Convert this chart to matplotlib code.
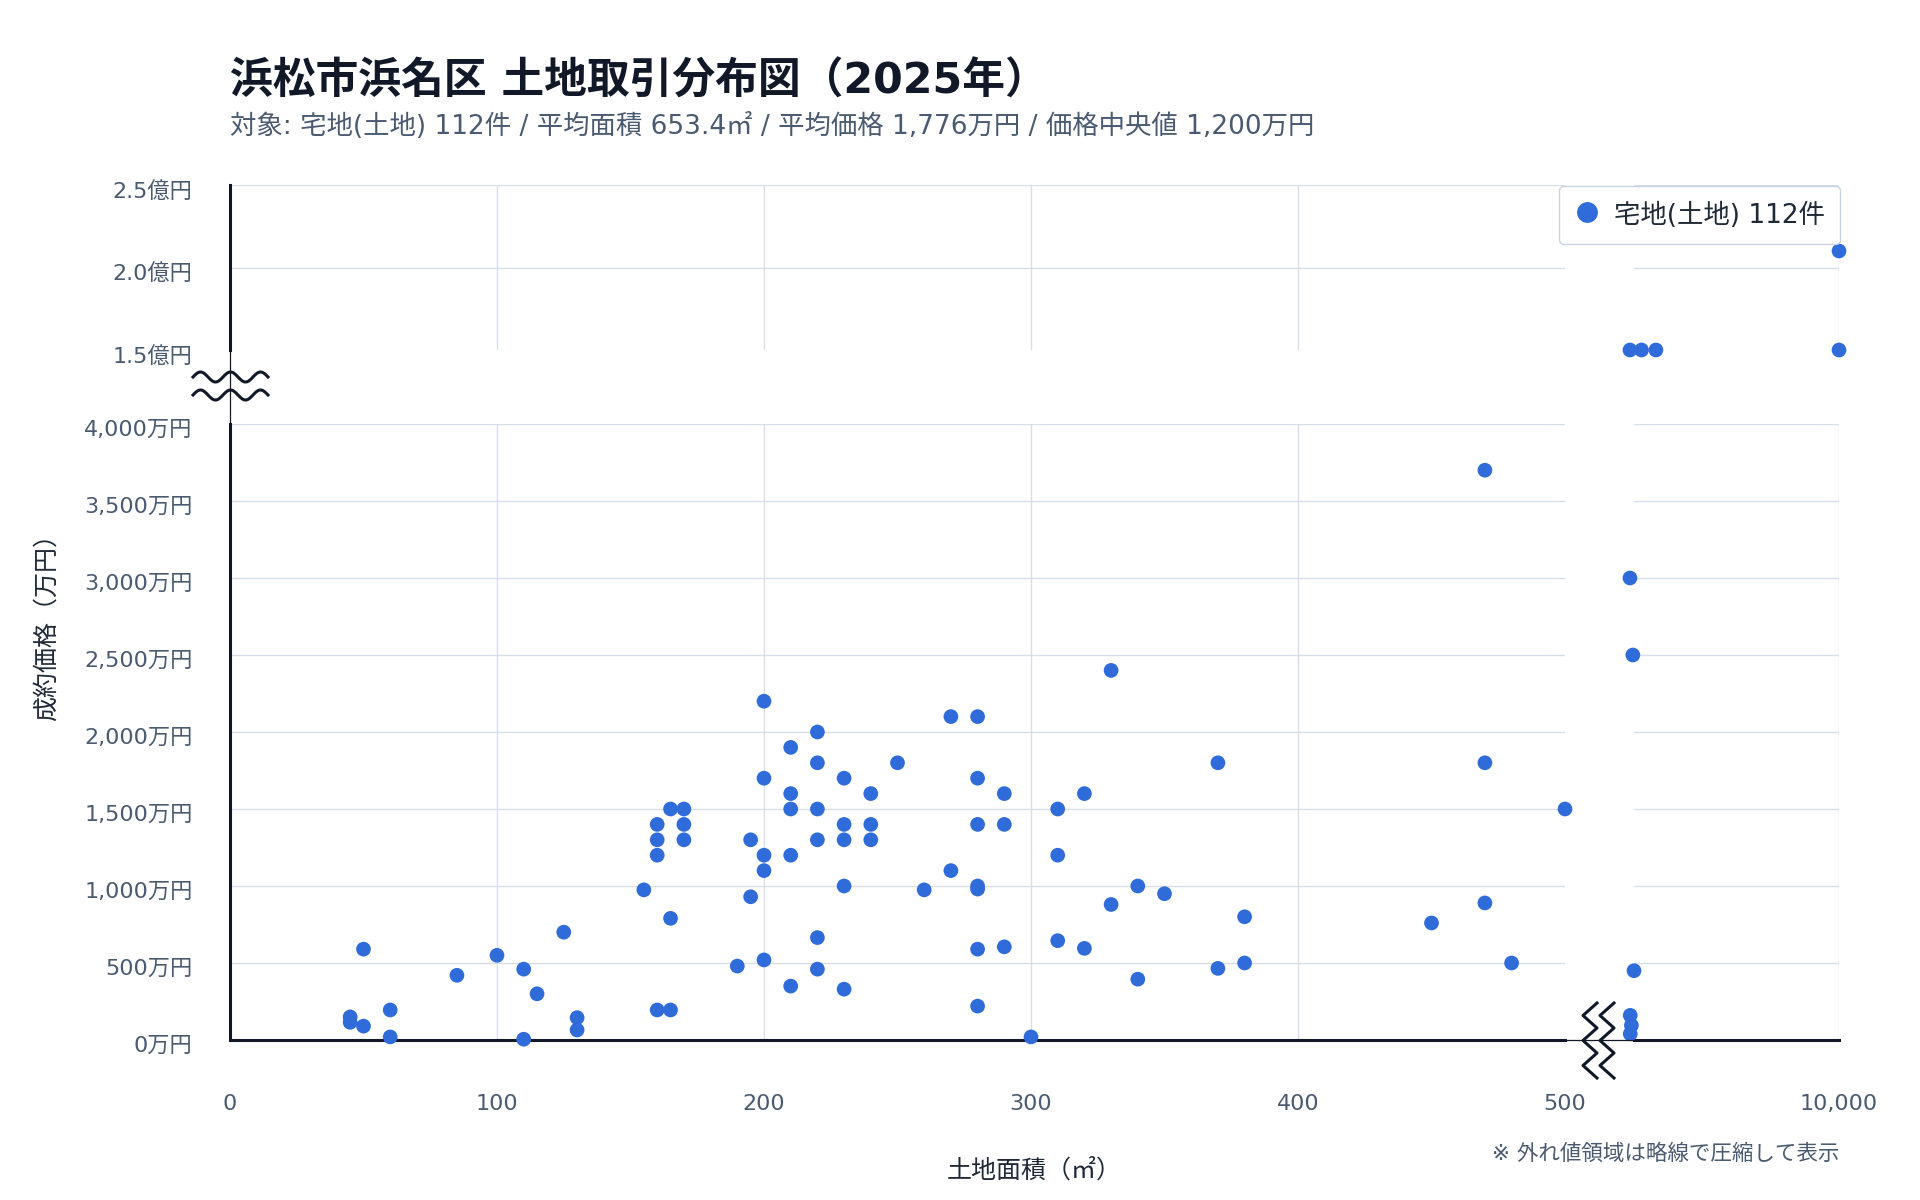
import numpy as np
import matplotlib
matplotlib.use("Agg")
import matplotlib.pyplot as plt
from matplotlib.lines import Line2D
from matplotlib.transforms import ScaledTranslation

plt.rcParams['font.family'] = ['DejaVu Sans', 'Noto Sans CJK JP']

# 土地面積(㎡) / 成約価格(万円) -- 0〜500㎡ の通常領域
area_main = [45, 45, 50, 50, 60, 60, 85, 100, 110, 110, 115, 125, 130, 130,
             155, 160, 160, 160, 160, 165, 165, 165, 170, 170, 170, 190, 195, 195,
             200, 200, 200, 200, 200, 210, 210, 210, 210, 210,
             220, 220, 220, 220, 220, 220, 230, 230, 230, 230, 230,
             240, 240, 240, 250, 260, 270, 270,
             280, 280, 280, 280, 280, 280, 280, 290, 290, 290, 300,
             310, 310, 310, 320, 320, 330, 330, 340, 340, 350, 370, 370, 380, 380,
             450, 470, 470, 470, 480, 500]
price_main = [150, 115, 90, 590, 195, 20, 420, 550, 460, 5, 300, 700, 145, 65,
              975, 1400, 1300, 1200, 195, 1500, 790, 195, 1500, 1400, 1300, 480, 1300, 930,
              2200, 1700, 1200, 1100, 520, 1900, 1600, 1500, 1200, 350,
              2000, 1800, 1500, 1300, 665, 460, 1700, 1400, 1300, 1000, 330,
              1600, 1400, 1300, 1800, 975, 2100, 1100,
              2100, 1700, 1400, 1000, 980, 590, 220, 1600, 1400, 605, 20,
              1500, 1200, 645, 1600, 595, 2400, 880, 1000, 395, 950, 1800, 465, 800, 500,
              760, 3700, 1800, 890, 500, 1500]

# 面積の外れ値 (圧縮表示領域)
area_out = [2750, 2850, 2890, 2760, 2800, 2760]
price_out = [3000, 2500, 450, 160, 95, 40]

# 価格の外れ値 (1.5億円以上)
area_top = [2750, 3150, 3650, 10000, 10000]
price_top = [15000, 15000, 15000, 21000, 15000]

low_yticks = list(range(0, 4001, 500))
top_yticks = [15000, 20000, 25000]
main_xticks = [0, 100, 200, 300, 400, 500]

BLUE = '#2f6bd9'
DARK = '#111827'
GRID = '#d5dee9'
TICK = '#4a5a70'

W, H = 1920, 1200


def box(l, t, r, b):
    return [l / W, 1 - b / H, (r - l) / W, (b - t) / H]


def fx(px):
    return px / W


def fy(py):
    return 1 - py / H


fig = plt.figure(figsize=(19.2, 12), dpi=100)
ax_ll = fig.add_axes(box(230, 424, 1565, 1040))
ax_lr = fig.add_axes(box(1634, 424, 1839, 1040))
ax_ul = fig.add_axes(box(230, 185, 1565, 350))
ax_ur = fig.add_axes(box(1634, 185, 1839, 350))

for ax in (ax_ll, ax_lr, ax_ul, ax_ur):
    for s in ax.spines.values():
        s.set_visible(False)
    ax.set_axisbelow(True)
    ax.grid(True, color=GRID, linewidth=1.0)
    ax.tick_params(length=0, labelsize=16, labelcolor=TICK)
    ax.tick_params(axis='y', pad=27)
    ax.tick_params(axis='x', pad=39)

# 下段左 (メイン)
ax_ll.set_xlim(0, 500)
ax_ll.set_ylim(0, 4000)
ax_ll.set_xticks(main_xticks)
ax_ll.set_xticklabels([f"{v:,}" for v in main_xticks])
ax_ll.set_yticks(low_yticks)
ax_ll.set_yticklabels([f"{v:,}万円" for v in low_yticks])
for t in ax_ll.xaxis.get_major_ticks():
    if t.get_loc() in (0, 500):
        t.gridline.set_visible(False)
ax_ll.spines['left'].set_visible(True)
ax_ll.spines['bottom'].set_visible(True)
ax_ll.spines['left'].set_color(DARK)
ax_ll.spines['bottom'].set_color(DARK)
ax_ll.spines['left'].set_linewidth(2.2)
ax_ll.spines['bottom'].set_linewidth(2.2)
ax_ll.scatter(area_main, price_main, s=112, color=BLUE, edgecolors='none',
              clip_on=False, zorder=3)

# 下段右 (面積外れ値)
ax_lr.set_xlim(2890, 10000)
ax_lr.set_ylim(0, 4000)
ax_lr.set_xticks([10000])
ax_lr.set_xticklabels(['10,000'])
ax_lr.set_yticks(low_yticks)
ax_lr.set_yticklabels([])
ax_lr.spines['bottom'].set_visible(True)
ax_lr.spines['bottom'].set_color(DARK)
ax_lr.spines['bottom'].set_linewidth(2.2)
ax_lr.scatter(area_out, price_out, s=112, color=BLUE, edgecolors='none',
              clip_on=False, zorder=3)

# 上段左 (価格外れ値)
ax_ul.set_xlim(0, 500)
ax_ul.set_ylim(15000, 25000)
ax_ul.set_xticks([100, 200, 300, 400])
ax_ul.set_xticklabels([])
ax_ul.set_yticks(top_yticks)
ax_ul.set_yticklabels([f"{v / 10000:.1f}億円" for v in top_yticks])
ax_ul.yaxis.get_major_ticks()[0].gridline.set_visible(False)
ax_ul.spines['left'].set_visible(True)
ax_ul.spines['left'].set_color(DARK)
ax_ul.spines['left'].set_linewidth(2.2)

# 上段右
ax_ur.set_xlim(2890, 10000)
ax_ur.set_ylim(15000, 25000)
ax_ur.set_xticks([10000])
ax_ur.set_xticklabels([])
ax_ur.set_yticks([20000, 25000])
ax_ur.set_yticklabels([])
ax_ur.scatter(area_top, price_top, s=112, color=BLUE, edgecolors='none',
              clip_on=False, zorder=3)

# y目盛ラベルを少し下へ
shift = ScaledTranslation(0, -4 / 100, fig.dpi_scale_trans)
for ax in (ax_ll, ax_ul):
    for lab in ax.get_yticklabels():
        lab.set_transform(lab.get_transform() + shift)

# 軸の略線部分 (細線 + 波線)
fig.add_artist(Line2D([fx(230), fx(230)], [fy(350), fy(424)], color=DARK, lw=0.9,
                      transform=fig.transFigure))
fig.add_artist(Line2D([fx(1565), fx(1634)], [fy(1040), fy(1040)], color=DARK, lw=0.9,
                      transform=fig.transFigure))
wx = np.linspace(193, 268, 120)
for yc in (377, 395):
    wy = yc - 5 * np.sin(2 * np.pi * (wx - 193) / 30.0)
    fig.add_artist(Line2D(fx(wx), fy(wy), color=DARK, lw=2.2, transform=fig.transFigure))
zy = np.linspace(1003, 1078, 7)
for xc in (1590, 1607):
    zx = xc + 7 * np.array([1, -1, 1, -1, 1, -1, 1])
    fig.add_artist(Line2D(fx(zx), fy(zy), color=DARK, lw=2.2, transform=fig.transFigure))

# 凡例
handle = Line2D([], [], marker='o', linestyle='none', markersize=15,
                markerfacecolor=BLUE, markeredgecolor='none')
leg = fig.legend([handle], ['宅地(土地) 112件'], loc='upper right',
                 bbox_to_anchor=(fx(1840), fy(186)), fontsize=19, frameon=True,
                 fancybox=True, edgecolor='#c8d4e3', framealpha=1,
                 borderpad=0.55, handletextpad=0.55, handlelength=1.0,
                 handleheight=1.25, borderaxespad=0)
for t in leg.get_texts():
    t.set_color('#1f2937')

# タイトル類
fig.text(fx(230), fy(82), '浜松市浜名区 土地取引分布図（2025年）', fontsize=30.8,
         fontweight='bold', color=DARK, ha='left', va='center')
fig.text(fx(230), fy(126),
         '対象: 宅地(土地) 112件 / 平均面積 653.4㎡ / 平均価格 1,776万円 / 価格中央値 1,200万円',
         fontsize=19, color=TICK, ha='left', va='center')
fig.text(fx(1034), fy(1170), '土地面積（㎡）', fontsize=18, color='#1f2937',
         ha='center', va='center')
fig.text(fx(47), fy(621), '成約価格（万円）', fontsize=18, color='#1f2937',
         ha='center', va='center', rotation=90)
fig.text(fx(1839), fy(1154), '※ 外れ値領域は略線で圧縮して表示', fontsize=15.5,
         color=TICK, ha='right', va='center')

fig.savefig('out.png', dpi=100, facecolor='white')
